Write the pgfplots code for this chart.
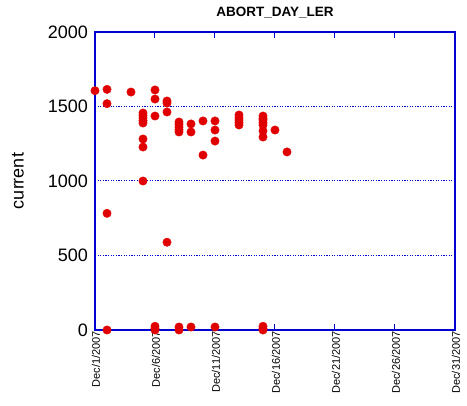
\documentclass[border=0pt]{standalone}
\usepackage{pgfplots}
\pgfplotsset{compat=1.18}
\usepackage{fontspec}
\setmainfont{Liberation Sans}
\definecolor{axblue}{RGB}{0,0,210}
\definecolor{ptred}{RGB}{225,0,0}
\begin{document}
\begin{tikzpicture}[x=1pt,y=1pt]
\path[use as bounding box] (0,0) rectangle (467,406);
\begin{axis}[
    at={(95pt,76pt)}, anchor=south west,
    scale only axis, width=360pt, height=298pt,
    xmin=0, xmax=30, ymin=0, ymax=2000,
    xtick={0,5,...,30},
    xticklabels={Dec/1/2007,Dec/6/2007,Dec/11/2007,Dec/16/2007,Dec/21/2007,Dec/26/2007,Dec/31/2007},
    ytick={0,500,1000,1500,2000},
    xtick pos=both, ytick pos=left,
    tick align=inside, major tick length=6pt,
    ytick style={draw=none},
    tick style={axblue, line width=1pt},
    axis line style={axblue, line width=1.2pt},
    ymajorgrids,
    grid style={axblue, line width=1pt, dash pattern=on 1.2pt off 1.4pt},
    /pgf/number format/assume math mode=true,
    /pgf/number format/1000 sep={},
    yticklabel style={font=\fontsize{18}{18}\selectfont, inner sep=2pt, xshift=-5pt},
    xticklabel style={font=\fontsize{11}{11}\selectfont, rotate=90, anchor=east, inner sep=1pt, yshift=-1pt},
    ylabel={current},
    ylabel style={font=\fontsize{18}{18}\selectfont, at={(axis description cs:-0.214,0.5)}, anchor=center},
    title={ABORT\_DAY\_LER},
    title style={font=\bfseries\fontsize{13.5}{13.5}\selectfont, at={(axis description cs:0.5,1)}, anchor=center, yshift=13pt},
  ]
  \addplot[only marks, mark=*, mark size=4.2pt, mark options={draw=ptred, fill=ptred}] table {
    x   y
    0   1606
    1   1615
    1   1519
    1   783
    1   0
    3   1597
    4   1456
    4   1440
    4   1423
    4   1405
    4   1389
    4   1282
    4   1228
    4   1000
    5   1611
    5   1550
    5   1436
    5   25
    5   10
    5   0
    6   1537
    6   1523
    6   1463
    6   589
    7   1396
    7   1380
    7   1362
    7   1345
    7   1329
    7   20
    7   0
    8   1383
    8   1329
    8   20
    9   1403
    9   1174
    10  1403
    10  1342
    10  1268
    10  20
    12  1443
    12  1425
    12  1409
    12  1392
    12  1376
    14  1436
    14  1420
    14  1409
    14  1392
    14  1376
    14  1336
    14  1295
    14  25
    14  10
    14  0
    15  1342
    16  1195
  };
\end{axis}
\end{tikzpicture}
\end{document}
